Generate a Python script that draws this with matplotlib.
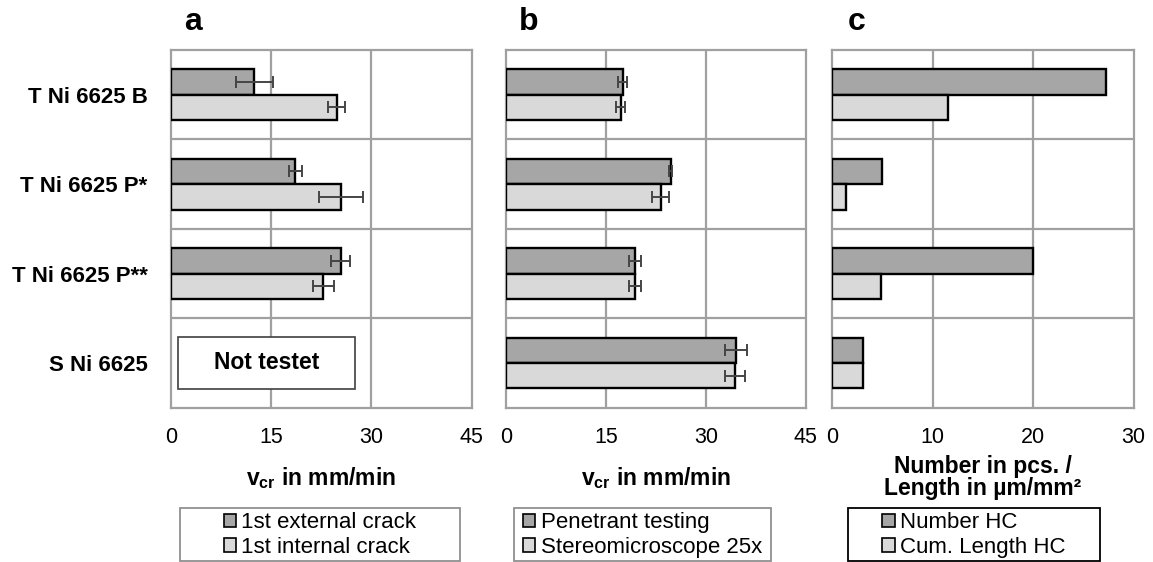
import numpy as np
import matplotlib
matplotlib.use('Agg')
import matplotlib.pyplot as plt
from matplotlib.patches import Patch, Rectangle

plt.rcParams['font.family'] = ['Liberation Sans', 'DejaVu Sans']
plt.rcParams['mathtext.fontset'] = 'custom'
plt.rcParams['mathtext.rm'] = 'Liberation Sans:bold'
plt.rcParams['mathtext.bf'] = 'Liberation Sans:bold'
plt.rcParams['mathtext.default'] = 'bf'

samples = ['T Ni 6625 B', 'T Ni 6625 P*', 'T Ni 6625 P**', 'S Ni 6625']

# panel a - crack velocity (no data for S Ni 6625)
ext_crack = [12.5, 18.6, 25.4, np.nan]
ext_err = [2.8, 0.95, 1.4, np.nan]
int_crack = [24.8, 25.4, 22.8, np.nan]
int_err = [1.3, 3.3, 1.55, np.nan]

# panel b
penetrant = [17.5, 24.7, 19.3, 34.6]
pen_err = [0.7, 0.2, 0.9, 1.65]
stereo = [17.2, 23.2, 19.3, 34.4]
stereo_err = [0.7, 1.3, 0.9, 1.55]

# panel c
number_hc = [27.2, 5.0, 20.0, 3.1]
length_hc = [11.5, 1.4, 4.9, 3.05]

dark = '#a6a6a6'
light = '#d9d9d9'
gridc = '#a0a0a0'

W, H = 1153, 562
fig = plt.figure(figsize=(W / 100, H / 100), dpi=100)

bottom = 1 - 407.7 / H
height = (407.7 - 50) / H
axa = fig.add_axes([171 / W, bottom, 300.5 / W, height])
axb = fig.add_axes([506 / W, bottom, 299.7 / W, height])
axc = fig.add_axes([832 / W, bottom, 301.7 / W, height])

y = np.arange(len(samples))
bh = 0.285

def draw(ax, v1, e1, v2, e2, xmax, step):
    ax.barh(y - bh / 2, v1, height=bh, color=dark, edgecolor='black', linewidth=1.7, zorder=3)
    ax.barh(y + bh / 2, v2, height=bh, color=light, edgecolor='black', linewidth=1.7, zorder=3)
    if e1 is not None:
        ax.errorbar(v1, y - bh / 2, xerr=e1, fmt='none', ecolor='#454545', elinewidth=1.4,
                    capsize=4.5, capthick=1.4, zorder=4)
        ax.errorbar(v2, y + bh / 2, xerr=e2, fmt='none', ecolor='#454545', elinewidth=1.4,
                    capsize=4.5, capthick=1.4, zorder=4)
    ax.set_xlim(0, xmax)
    ax.set_ylim(3.5, -0.5)
    ax.set_xticks(np.arange(0, xmax + 1, step))
    ax.set_yticks(y)
    for g in np.arange(step, xmax, step):
        ax.axvline(g, color=gridc, lw=1.6, zorder=1)
    for g in [0.5, 1.5, 2.5]:
        ax.axhline(g, color=gridc, lw=1.6, zorder=1)
    for s in ax.spines.values():
        s.set_color(gridc)
        s.set_linewidth(1.6)
    ax.tick_params(axis='both', length=0, labelsize=15.5, pad=14)

draw(axa, ext_crack, ext_err, int_crack, int_err, 45, 15)
draw(axb, penetrant, pen_err, stereo, stereo_err, 45, 15)
draw(axc, number_hc, None, length_hc, None, 30, 10)

axa.set_yticklabels(samples, fontsize=16, fontweight='bold')
axa.tick_params(axis='y', pad=17)
axb.set_yticklabels([])
axc.set_yticklabels([])

# not tested box
axa.add_patch(Rectangle((1.1, 3 - 0.29), 26.5, 0.58, facecolor='white', edgecolor='#404040',
                        lw=1.2, zorder=5))
axa.text(14.3, 3, 'Not testet', ha='center', va='center', fontsize=16.5, fontweight='bold', zorder=6)

# x labels
fig.text(321 / W, 1 - 478 / H, r'v$_{cr}$ in mm/min', ha='center', va='center',
         fontsize=16.5, fontweight='bold')
fig.text(656 / W, 1 - 478 / H, r'v$_{cr}$ in mm/min', ha='center', va='center',
         fontsize=16.5, fontweight='bold')
fig.text(983 / W, 1 - 467 / H, 'Number in pcs. /', ha='center', va='center',
         fontsize=16.5, fontweight='bold')
fig.text(983 / W, 1 - 489 / H, 'Length in µm/mm²', ha='center', va='center',
         fontsize=16.5, fontweight='bold')

# panel letters
for xl, t in [(193, 'a'), (529, 'b'), (857, 'c')]:
    fig.text(xl / W, 1 - 22 / H, t, ha='center', va='center', fontsize=23, fontweight='bold')

# legends with separate frames
legs = [
    (180, 460, '#909090', ['1st external crack', '1st internal crack']),
    (514, 771, '#909090', ['Penetrant testing', 'Stereomicroscope 25x']),
    (848, 1100, 'black', ['Number HC', 'Cum. Length HC']),
]
for x0, x1, ec, labels in legs:
    fig.add_artist(Rectangle((x0 / W, 1 - 561 / H), (x1 - x0) / W, 53 / H,
                             transform=fig.transFigure, facecolor='white', edgecolor=ec, lw=1.3))
    handles = [Patch(facecolor=dark, edgecolor='black', lw=1.2, label=labels[0]),
               Patch(facecolor=light, edgecolor='black', lw=1.2, label=labels[1])]
    fig.legend(handles=handles, loc='center', bbox_to_anchor=((x0 + x1) / 2 / W, 1 - 535 / H),
               frameon=False, fontsize=16, handlelength=0.55, handleheight=0.55,
               handletextpad=0.25, labelspacing=0.15, borderpad=0)

fig.savefig('out.png', dpi=100)
